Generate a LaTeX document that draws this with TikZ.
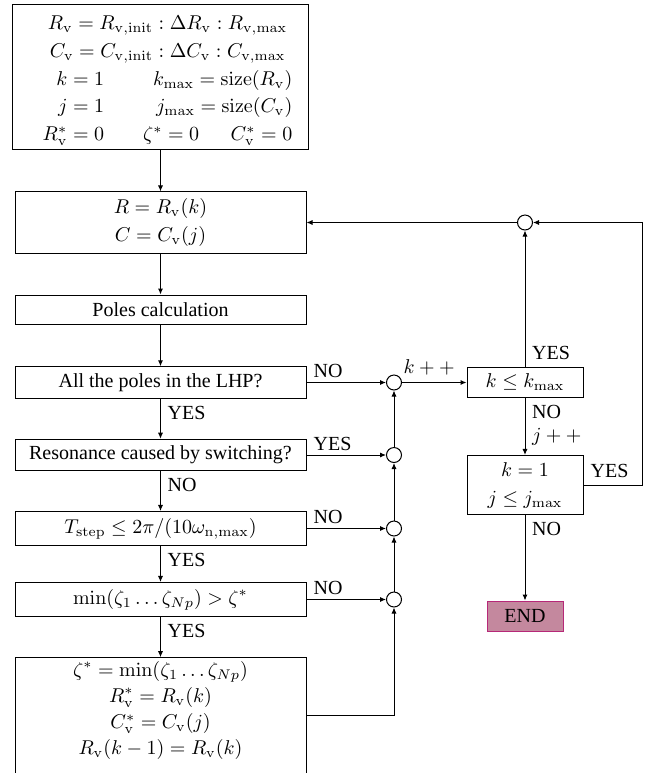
\documentclass[tikz,border=0pt]{standalone}
\usepackage{amsmath}
\usepackage{amssymb}
\usepackage[no-math]{fontspec}
\setmainfont{Liberation Serif}
\usetikzlibrary{calc,positioning,arrows.meta}
\definecolor{endfill}{RGB}{196,136,158}
\definecolor{enddraw}{RGB}{182,40,120}
\renewcommand{\arraystretch}{1.16}

\begin{document}
\begin{tikzpicture}[
            x=0.5pt, y=-0.5pt,
            every path/.append style={line width=0.5pt},
            >={Latex[length=3pt,width=2.6pt]},
            box/.style={draw, minimum width=145.5pt, align=center},
            sumc/.style={draw, circle, minimum size=7.5pt, inner sep=0pt},
            side/.style={above right, pos=0, inner xsep=3.3pt, inner ysep=2pt}
        ]
            \useasboundingbox (0,0) rectangle (662,773);

            % main column
            \node[box, minimum height=72.5pt, inner ysep=0pt] (init) at (160.5,76.5) {\hspace*{7pt}$\begin{array}{r@{\hspace{19.5pt}}c@{\hspace{12.5pt}}r}
                \multicolumn{3}{c}{R_{\mathrm{v}} = R_{\mathrm{v,init}} : \Delta R_{\mathrm{v}} : R_{\mathrm{v},\max}}\\
                \multicolumn{3}{c}{C_{\mathrm{v}} = C_{\mathrm{v,init}} : \Delta C_{\mathrm{v}} : C_{\mathrm{v},\max}}\\
                k = 1 & \multicolumn{2}{r}{k_{\max} = \mathrm{size}(R_{\mathrm{v}})}\\
                j = 1 & \multicolumn{2}{r}{j_{\max} = \mathrm{size}(C_{\mathrm{v}})}\\
                R^*_{\mathrm{v}} = 0 & \zeta^* = 0 & C^*_{\mathrm{v}} = 0\\[-3pt]
            \end{array}$};
            \node[box, minimum height=28.5pt] (setrc) at (160.5,222.5) {$R = R_{\mathrm{v}}(k)$\\[2pt] $C = C_{\mathrm{v}}(j)$};
            \node[box, minimum height=14.5pt] (poles) at (160.5,309.5) {Poles calculation};
            \node[box, minimum height=14.5pt] (lhp) at (160.5,382.5) {All the poles in the LHP?};
            \node[box, minimum height=14pt] (reson) at (160.5,455) {Resonance caused by switching?};
            \node[box, minimum height=14.5pt] (tstep) at (160.5,528.5) {$T_{\mathrm{step}} \leq 2\pi/(10\omega_{\mathrm{n},\max})$};
            \node[box, minimum height=15.5pt] (zmin) at (160.5,599.5) {$\min(\zeta_1 \ldots \zeta_{Np}) > \zeta^*$};
            \node[box, minimum height=58pt, inner ysep=0pt] (store) at (160.5,717) {\renewcommand{\arraystretch}{1.09}$\begin{array}{c}
                \zeta^* = \min(\zeta_1 \ldots \zeta_{Np})\\
                R^*_{\mathrm{v}} = R_{\mathrm{v}}(k)\\
                C^*_{\mathrm{v}} = C_{\mathrm{v}}(j)\\
                R_{\mathrm{v}}(k-1) = R_{\mathrm{v}}(k)\\[7pt]
            \end{array}$};

            % junctions
            \node[sumc] (s1) at (394,382.5) {};
            \node[sumc] (s2) at (394,455) {};
            \node[sumc] (s3) at (394,528.5) {};
            \node[sumc] (s4) at (394,599.5) {};
            \node[sumc] (s0) at (525,222.5) {};

            % counters
            \node[draw, minimum width=58pt, minimum height=14.5pt] (kchk) at (525,382.5) {$k \leq k_{\max}$};
            \node[draw, minimum width=58pt, minimum height=29pt, align=center] (jchk) at (525,485) {$k = 1$\\[2pt] $j \leq j_{\max}$};
            \node[draw=enddraw, fill=endfill, minimum width=38pt, minimum height=15pt] (stop) at (525,616) {END};
            \coordinate (loop) at (642,222.5);

            \draw[->] (init) -- (setrc);
            \draw[->] (setrc) -- (poles);
            \draw[->] (poles) -- (lhp);
            \draw[->] (lhp) -- node[below right, pos=0]{YES} (reson);
            \draw[->] (reson) -- node[below right, pos=0]{NO} (tstep);
            \draw[->] (tstep) -- node[below right, pos=0]{YES} (zmin);
            \draw[->] (zmin) -- node[below right, pos=0]{YES} (store);

            \draw[->] (lhp) -- node[side]{NO} (s1);
            \draw[->] (reson) -- node[side]{YES} (s2);
            \draw[->] (tstep) -- node[side]{NO} (s3);
            \draw[->] (zmin) -- node[side]{NO} (s4);
            \draw[->] ($(store.north east)+(0,58)$) -| (s4);
            \draw[->] (s4) -- (s3);
            \draw[->] (s3) -- (s2);
            \draw[->] (s2) -- (s1);

            \draw[->] (s1) -- node[above, pos=0.42]{$k++$} (kchk);
            \draw[->] (kchk) -- node[above right, pos=0]{YES} (s0);
            \draw[->] (s0) -- (setrc);
            \draw[->] (kchk) -- node[below right, pos=0]{NO} node[right, pos=0.68]{$j++$} (jchk);
            \draw[->] (jchk.east) -| node[above right, pos=0]{YES} (loop) -- (s0);
            \draw[->] (jchk) -- node[below right, pos=0]{NO} (stop);
        \end{tikzpicture}
\end{document}
